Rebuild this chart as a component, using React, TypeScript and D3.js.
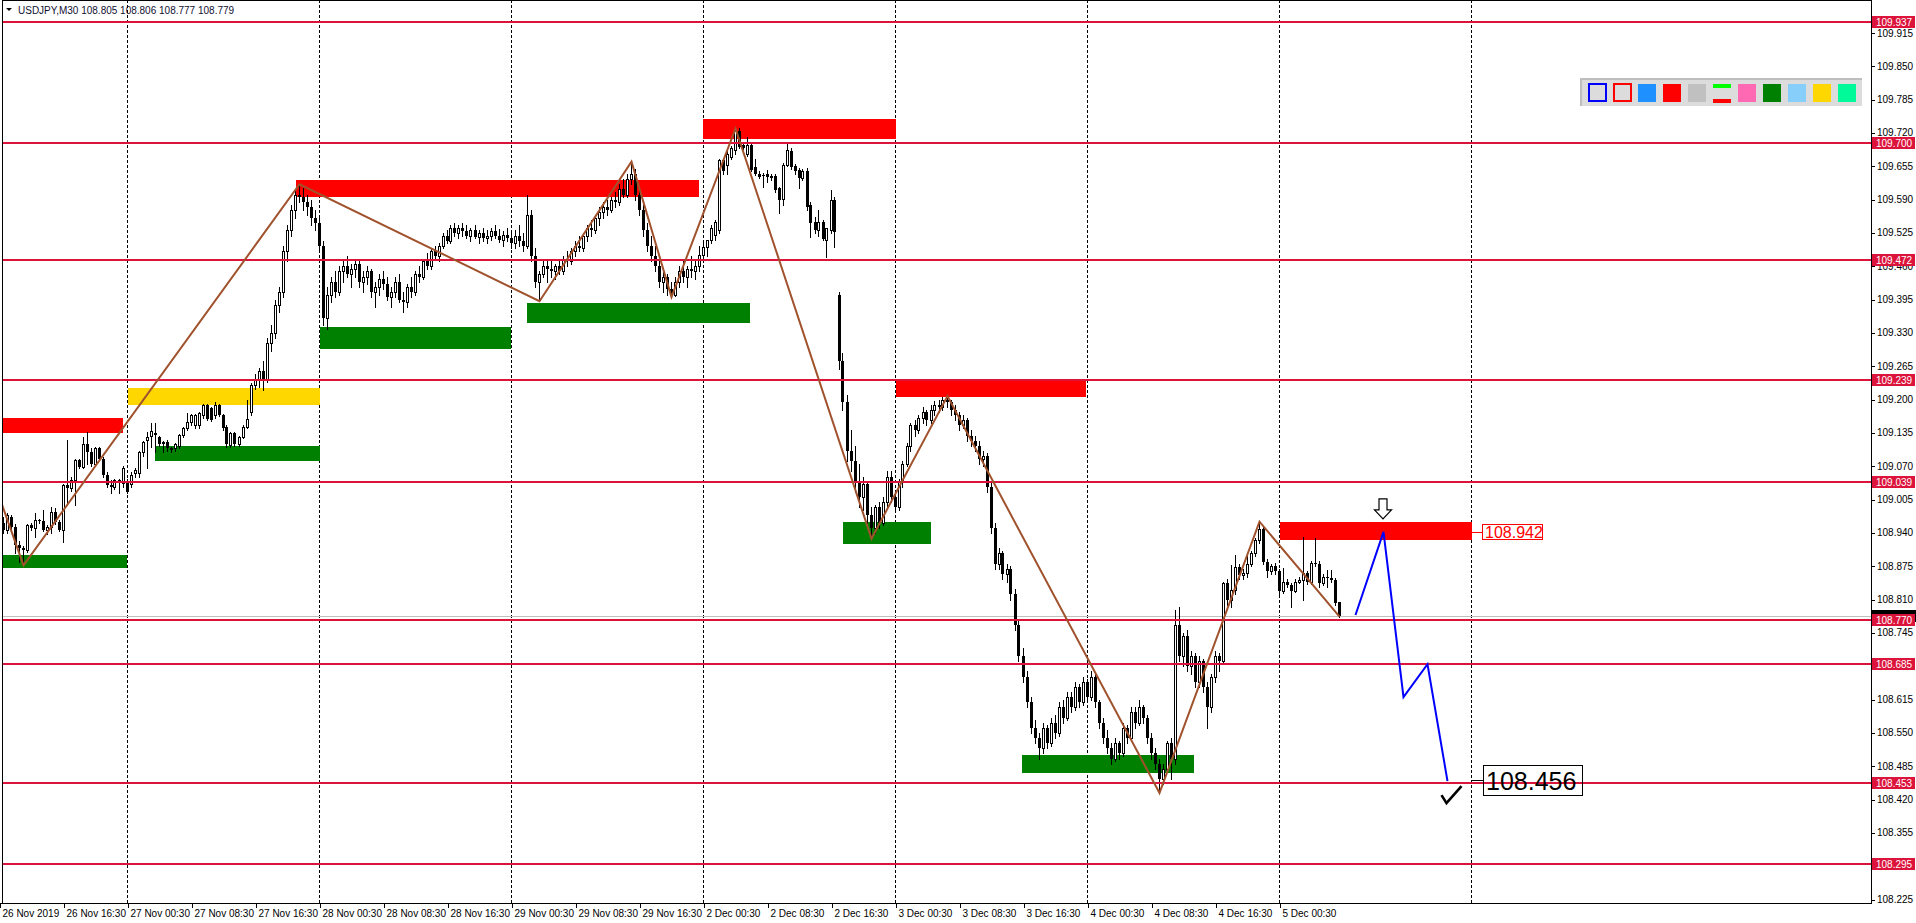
import React from 'react';
import * as d3 from 'd3';

type Bar = [number, number, number, number]; // open, high, low, close (thousandths above 108.000)

// 26 Nov 08:30 .. 26 Nov 24:00
const nov26: Bar[] = [
  [975, 985, 950, 960], [960, 972, 939, 945], [945, 978, 940, 975], [971, 975, 948, 952],
  [952, 958, 900, 916], [916, 925, 884, 910], [910, 915, 877, 906], [906, 958, 903, 955],
  [955, 960, 945, 949], [949, 978, 933, 965], [965, 968, 960, 964], [964, 985, 944, 946],
  [946, 955, 938, 952], [952, 991, 939, 981], [981, 988, 958, 962], [962, 965, 944, 946],
  [946, 1035, 923, 1033], [1033, 1121, 994, 1027], [1027, 1050, 1022, 1044], [1044, 1085, 994, 1082],
  [1082, 1085, 1066, 1069], [1069, 1127, 1066, 1114], [1114, 1137, 1075, 1098], [1098, 1105, 1070, 1075],
  [1075, 1108, 1070, 1105], [1105, 1108, 1082, 1085], [1085, 1088, 1050, 1053], [1053, 1058, 1030, 1033],
  [1033, 1043, 1017, 1030], [1030, 1045, 1025, 1043], [1043, 1046, 1017, 1038], [1038, 1070, 1030, 1066],
];

const nov27: Bar[] = [
  [1040, 1045, 1017, 1020], [1036, 1058, 1030, 1053], [1056, 1066, 1050, 1062], [1056, 1100, 1050, 1098],
  [1098, 1120, 1090, 1118], [1121, 1137, 1066, 1127], [1129, 1154, 1108, 1139], [1133, 1154, 1098, 1135],
  [1127, 1130, 1110, 1114], [1118, 1120, 1098, 1114], [1118, 1122, 1100, 1105], [1105, 1108, 1098, 1102],
  [1105, 1116, 1100, 1114], [1110, 1133, 1105, 1131], [1131, 1146, 1128, 1144], [1144, 1173, 1140, 1157],
  [1157, 1172, 1150, 1170], [1150, 1172, 1145, 1170], [1150, 1175, 1145, 1173], [1170, 1192, 1165, 1189],
  [1189, 1192, 1160, 1163], [1183, 1186, 1158, 1160], [1170, 1196, 1165, 1189], [1189, 1192, 1168, 1170],
  [1170, 1172, 1140, 1144], [1147, 1150, 1108, 1114], [1111, 1136, 1108, 1134], [1134, 1136, 1110, 1114],
  [1114, 1130, 1110, 1127], [1127, 1150, 1125, 1147], [1147, 1199, 1145, 1163], [1175, 1232, 1170, 1228],
  [1228, 1250, 1220, 1240], [1240, 1262, 1225, 1255], [1255, 1275, 1218, 1240], [1240, 1320, 1235, 1310],
  [1310, 1345, 1295, 1330], [1330, 1395, 1320, 1385], [1385, 1420, 1370, 1410], [1410, 1500, 1400, 1490],
  [1490, 1540, 1470, 1530], [1530, 1580, 1520, 1570], [1570, 1610, 1555, 1600], [1600, 1620, 1585, 1595],
  [1595, 1612, 1570, 1585], [1585, 1600, 1560, 1575], [1575, 1590, 1540, 1555], [1555, 1570, 1530, 1545],
];

const nov28: Bar[] = [
  [1545, 1560, 1490, 1500], [1500, 1510, 1345, 1360], [1360, 1420, 1338, 1405], [1405, 1440, 1390, 1430],
  [1430, 1450, 1400, 1410], [1410, 1460, 1405, 1450], [1450, 1470, 1430, 1460], [1460, 1480, 1440, 1445],
  [1445, 1465, 1420, 1455], [1455, 1475, 1440, 1465], [1465, 1470, 1420, 1430], [1430, 1450, 1410, 1440],
  [1440, 1460, 1425, 1450], [1450, 1455, 1400, 1410], [1410, 1430, 1380, 1420], [1420, 1445, 1405, 1435],
  [1435, 1450, 1415, 1425], [1425, 1440, 1395, 1400], [1400, 1420, 1380, 1410], [1410, 1440, 1400, 1430],
  [1430, 1445, 1390, 1395], [1395, 1410, 1370, 1390], [1390, 1425, 1380, 1420], [1420, 1440, 1400, 1410],
  [1410, 1450, 1405, 1445], [1445, 1460, 1430, 1440], [1440, 1475, 1435, 1470], [1470, 1485, 1455, 1460],
  [1460, 1495, 1455, 1490], [1490, 1500, 1475, 1480], [1480, 1505, 1470, 1500], [1500, 1525, 1495, 1520],
  [1520, 1530, 1505, 1510], [1510, 1540, 1505, 1535], [1535, 1545, 1520, 1525], [1525, 1540, 1515, 1535],
  [1535, 1545, 1520, 1528], [1528, 1540, 1515, 1520], [1520, 1535, 1510, 1530], [1530, 1540, 1515, 1518],
  [1518, 1530, 1505, 1525], [1525, 1535, 1510, 1515], [1515, 1530, 1505, 1520], [1520, 1535, 1512, 1528],
  [1528, 1540, 1515, 1520], [1520, 1532, 1508, 1512], [1512, 1528, 1500, 1522], [1522, 1535, 1510, 1515],
];

const nov29: Bar[] = [
  [1515, 1525, 1495, 1505], [1505, 1530, 1495, 1520], [1520, 1540, 1500, 1510], [1510, 1525, 1490, 1500],
  [1500, 1600, 1495, 1560], [1560, 1570, 1470, 1480], [1480, 1495, 1420, 1430], [1430, 1450, 1392, 1445],
  [1445, 1475, 1440, 1460], [1460, 1470, 1430, 1455], [1455, 1470, 1440, 1450], [1450, 1465, 1435, 1460],
  [1460, 1475, 1445, 1450], [1450, 1480, 1445, 1475], [1475, 1490, 1460, 1470], [1470, 1495, 1465, 1490],
  [1490, 1510, 1480, 1500], [1500, 1520, 1490, 1495], [1495, 1525, 1490, 1520], [1520, 1540, 1510, 1535],
  [1535, 1550, 1520, 1530], [1530, 1560, 1525, 1555], [1555, 1575, 1540, 1565], [1565, 1585, 1555, 1575],
  [1575, 1590, 1560, 1570], [1570, 1595, 1565, 1590], [1590, 1605, 1575, 1585], [1585, 1620, 1580, 1610],
  [1610, 1630, 1595, 1600], [1600, 1640, 1595, 1630], [1630, 1664, 1620, 1640], [1640, 1650, 1590, 1600],
  [1600, 1615, 1560, 1570], [1570, 1580, 1520, 1530], [1530, 1545, 1490, 1500], [1500, 1520, 1470, 1480],
  [1480, 1500, 1450, 1460], [1460, 1470, 1420, 1430], [1430, 1450, 1410, 1440], [1440, 1445, 1405, 1415],
  [1415, 1430, 1400, 1405], [1405, 1440, 1402, 1430], [1430, 1460, 1420, 1450], [1450, 1470, 1430, 1440],
  [1440, 1460, 1420, 1455], [1455, 1480, 1440, 1450], [1450, 1470, 1435, 1460], [1460, 1500, 1450, 1482],
];

const dec2: Bar[] = [
  [1482, 1505, 1475, 1498], [1498, 1512, 1480, 1512], [1511, 1540, 1505, 1534], [1521, 1550, 1512, 1547],
  [1531, 1670, 1525, 1667], [1667, 1672, 1640, 1645], [1657, 1687, 1641, 1680], [1674, 1695, 1670, 1690],
  [1687, 1729, 1680, 1723], [1723, 1729, 1690, 1693], [1696, 1700, 1688, 1690], [1680, 1712, 1675, 1696],
  [1696, 1700, 1645, 1648], [1654, 1670, 1638, 1641], [1641, 1645, 1632, 1635], [1638, 1642, 1615, 1636],
  [1640, 1648, 1625, 1634], [1637, 1640, 1628, 1632], [1636, 1640, 1605, 1609], [1612, 1615, 1563, 1589],
  [1592, 1662, 1580, 1658], [1658, 1700, 1655, 1687], [1684, 1690, 1650, 1654], [1656, 1660, 1640, 1646],
  [1648, 1652, 1612, 1632], [1632, 1650, 1628, 1645], [1646, 1652, 1570, 1576], [1580, 1585, 1518, 1544],
  [1547, 1556, 1524, 1531], [1530, 1570, 1520, 1547], [1547, 1550, 1511, 1513], [1511, 1534, 1479, 1534],
  [1531, 1609, 1525, 1589], [1589, 1595, 1498, 1527], [1405, 1410, 1260, 1275], [1275, 1290, 1180, 1195],
  [1195, 1210, 1080, 1100], [1100, 1140, 1060, 1080], [1080, 1110, 1020, 1040], [1040, 1075, 990, 1010],
  [1010, 1050, 985, 1035], [1035, 1040, 960, 975], [975, 990, 929, 950], [950, 995, 940, 990],
  [990, 1000, 950, 960], [960, 1010, 955, 1000], [1000, 1060, 990, 1050], [1050, 1060, 1000, 1010],
];

const dec3: Bar[] = [
  [1010, 1020, 980, 990], [990, 1045, 985, 1040], [1040, 1080, 1030, 1075], [1075, 1115, 1070, 1110],
  [1110, 1155, 1100, 1150], [1150, 1160, 1130, 1140], [1140, 1170, 1135, 1165], [1165, 1185, 1155, 1175],
  [1175, 1180, 1150, 1160], [1160, 1190, 1155, 1180], [1180, 1198, 1170, 1190], [1190, 1200, 1175, 1185],
  [1185, 1205, 1180, 1200], [1200, 1207, 1185, 1195], [1195, 1200, 1170, 1180], [1180, 1190, 1160, 1170],
  [1170, 1175, 1140, 1150], [1150, 1170, 1145, 1160], [1160, 1165, 1120, 1130], [1130, 1140, 1110, 1120],
  [1120, 1130, 1100, 1110], [1110, 1120, 1075, 1085], [1085, 1100, 1070, 1090], [1090, 1095, 1020, 1030],
  [1030, 1040, 940, 950], [950, 960, 870, 880], [880, 910, 870, 900], [900, 905, 850, 860],
  [860, 880, 845, 870], [870, 875, 810, 820], [820, 830, 750, 760], [760, 770, 690, 700],
  [700, 715, 650, 660], [660, 670, 600, 610], [610, 620, 550, 560], [560, 575, 530, 540],
  [540, 550, 500, 520], [520, 570, 510, 560], [560, 565, 520, 530], [530, 580, 525, 570],
  [570, 585, 540, 550], [550, 610, 545, 600], [600, 615, 570, 580], [580, 630, 575, 620],
  [620, 630, 590, 600], [600, 650, 595, 640], [640, 645, 600, 610], [610, 660, 605, 650],
];

const dec4: Bar[] = [
  [650, 655, 610, 620], [620, 670, 615, 660], [660, 665, 600, 610], [610, 615, 560, 570],
  [570, 580, 530, 540], [540, 555, 510, 520], [520, 530, 490, 500], [500, 540, 495, 530],
  [530, 535, 500, 510], [510, 570, 505, 560], [560, 565, 530, 540], [540, 600, 535, 590],
  [590, 600, 560, 570], [570, 615, 565, 600], [600, 605, 570, 580], [580, 585, 530, 540],
  [540, 550, 500, 510], [510, 520, 480, 490], [490, 500, 433, 460], [460, 490, 450, 480],
  [480, 535, 475, 530], [530, 540, 460, 500], [500, 790, 490, 760], [760, 795, 690, 700],
  [700, 745, 680, 740], [740, 750, 670, 680], [680, 710, 665, 700], [700, 705, 640, 650],
  [650, 700, 640, 690], [690, 695, 630, 640], [640, 650, 560, 600], [600, 665, 590, 660],
  [660, 710, 650, 700], [700, 705, 670, 690], [690, 845, 685, 842], [842, 850, 800, 809],
  [809, 877, 795, 828], [828, 897, 820, 874], [874, 880, 850, 858], [858, 870, 850, 861],
  [861, 897, 855, 880], [880, 905, 875, 900], [900, 930, 895, 926], [926, 962, 920, 948],
  [948, 952, 880, 884], [884, 890, 855, 865], [865, 880, 860, 875], [875, 882, 860, 866],
];

const dec5: Bar[] = [
  [866, 870, 820, 826], [826, 871, 822, 845], [845, 850, 835, 838], [838, 842, 796, 827],
  [827, 850, 825, 845], [845, 855, 842, 848], [848, 933, 810, 861], [861, 865, 840, 845],
  [845, 885, 840, 881], [881, 930, 875, 880], [880, 885, 835, 842], [842, 860, 838, 855],
  [855, 868, 835, 853], [853, 868, 845, 849], [849, 852, 800, 803], [805, 806, 777, 779],
];

const bars: Bar[] = [...nov26, ...nov27, ...nov28, ...nov29, ...dec2, ...dec3, ...dec4, ...dec5];

// time axis: one label every 16 bars (8 hours)
const timeLabels = [
  '26 Nov 2019', '26 Nov 16:30', '27 Nov 00:30', '27 Nov 08:30', '27 Nov 16:30', '28 Nov 00:30',
  '28 Nov 08:30', '28 Nov 16:30', '29 Nov 00:30', '29 Nov 08:30', '29 Nov 16:30', '2 Dec 00:30',
  '2 Dec 08:30', '2 Dec 16:30', '3 Dec 00:30', '3 Dec 08:30', '3 Dec 16:30', '4 Dec 00:30',
  '4 Dec 08:30', '4 Dec 16:30', '5 Dec 00:30',
];
const daySeparators = [32, 80, 128, 176, 224, 272, 320, 368];

const priceTicks = [
  108.225, 108.29, 108.355, 108.42, 108.485, 108.55, 108.615, 108.68, 108.745, 108.81, 108.875,
  108.94, 109.005, 109.07, 109.135, 109.2, 109.265, 109.33, 109.395, 109.46, 109.525, 109.59,
  109.655, 109.72, 109.785, 109.85, 109.915,
];
const levels = [109.937, 109.7, 109.472, 109.239, 109.039, 108.77, 108.685, 108.453, 108.295];
const bid = 108.779;

// zones: [fromBar, toBar, top, bottom, kind]
const zones: [number, number, number, number, string][] = [
  [-2, 30.8, 109.165, 109.135, 'res'],
  [-2, 31.9, 108.897, 108.872, 'sup'],
  [32, 80, 109.222, 109.19, 'mid'],
  [38.9, 80, 109.11, 109.081, 'sup'],
  [74.1, 174.9, 109.628, 109.595, 'res'],
  [80, 127.9, 109.341, 109.298, 'sup'],
  [131.9, 187.6, 109.388, 109.349, 'sup'],
  [175.8, 224, 109.747, 109.708, 'res'],
  [224, 271.6, 109.24, 109.205, 'res'],
  [210.9, 232.9, 108.962, 108.919, 'sup'],
  [255.6, 298.6, 108.507, 108.471, 'sup'],
  [320, 368, 108.961, 108.926, 'res'],
];

const zigzag: [number, number][] = [
  [-4, 109.097], [6, 108.877], [75, 109.62], [135, 109.392], [158, 109.664], [168, 109.4],
  [184, 109.729], [218, 108.929], [237, 109.207], [290, 108.433], [315, 108.962], [335, 108.777],
];
const projection: [number, number][] = [
  [339, 108.78], [346, 108.942], [351, 108.62], [357, 108.684], [362, 108.456],
];
const targetPrice = 108.942;
const finalPrice = 108.456;

const paletteColors = ['box-blue', 'box-red', '#1E90FF', '#FF0000', '#C0C0C0', 'lines', '#FF69B4', '#008000', '#87CEFA', '#FFD700', '#00FA9A'];

const FONT = "'Liberation Sans', Arial, sans-serif";
const RIGHT = 1871;
const BOTTOM = 903;
const zoneColor: Record<string, string> = { res: '#FF0000', sup: '#008000', mid: '#FFD700' };

export default function App() {
  const x = d3.scaleLinear().domain([0, 100]).range([-0.5, 399.5]);
  const y = d3.scaleLinear().domain([108.225, 109.915]).range([899.6, 33]);
  const p = (v: number) => 108 + v / 1000;
  const snap = (v: number) => Math.round(v) + 0.5;

  const line = d3.line<[number, number]>().x(d => x(d[0])).y(d => y(d[1]));
  const fmt = d3.format('.3f');

  return (
    <svg width={1916} height={923} style={{ position: 'fixed', left: 0, top: 0, background: '#fff' }}
      fontFamily={FONT}>
      <defs>
        <clipPath id="plot"><rect x={3} y={1} width={RIGHT - 3} height={BOTTOM - 1} /></clipPath>
      </defs>
      <rect x={0} y={0} width={1916} height={923} fill="#fff" />

      {/* day separators */}
      {daySeparators.map(i => (
        <line key={i} x1={snap(x(i)) - 1} x2={snap(x(i)) - 1} y1={0} y2={BOTTOM}
          stroke="#000" strokeDasharray="3,2" />
      ))}

      <g clipPath="url(#plot)">
        {zones.map((z, k) => (
          <rect key={k} x={Math.round(x(z[0]))} y={Math.round(y(z[2]))}
            width={Math.round(x(z[1])) - Math.round(x(z[0]))}
            height={Math.round(y(z[3])) - Math.round(y(z[2]))} fill={zoneColor[z[4]]} />
        ))}

        {/* bid line */}
        <line x1={0} x2={RIGHT} y1={snap(y(bid))} y2={snap(y(bid))} stroke="#C0C0C0" />

        {/* candles */}
        {bars.map((b, i) => {
          const cx = snap(x(i)) - 1;
          const [o, h, l, c] = b.map(p);
          const top = Math.round(y(Math.max(o, c)));
          const bot = Math.round(y(Math.min(o, c)));
          const bull = c >= o;
          return (
            <g key={i}>
              <line x1={cx} x2={cx} y1={Math.round(y(h))} y2={Math.round(y(l)) + 1} stroke="#000" />
              {bull ? (
                <rect x={cx - 1} y={top + 0.5} width={2} height={Math.max(bot - top, 0)} fill="#fff" stroke="#000" />
              ) : (
                <rect x={cx - 1.5} y={top} width={3} height={Math.max(bot - top, 1)} fill="#000" />
              )}
            </g>
          );
        })}

        {/* level lines */}
        {levels.map(v => (
          <line key={v} x1={0} x2={RIGHT} y1={Math.round(y(v))} y2={Math.round(y(v))}
            stroke="#DC143C" strokeWidth={2} />
        ))}

        <path d={line(zigzag) ?? ''} fill="none" stroke="#A0522D" strokeWidth={2} />
        <path d={line(projection) ?? ''} fill="none" stroke="#0000FF" strokeWidth={2} />
      </g>

      {/* frame */}
      <line x1={2.5} x2={2.5} y1={0} y2={BOTTOM} stroke="#000" />
      <line x1={2} x2={RIGHT} y1={0.5} y2={0.5} stroke="#000" />
      <line x1={RIGHT + 0.5} x2={RIGHT + 0.5} y1={0} y2={BOTTOM + 1} stroke="#000" />
      <line x1={0} x2={RIGHT + 1} y1={BOTTOM + 0.5} y2={BOTTOM + 0.5} stroke="#000" />

      {/* header */}
      <path d="M6,8 L12,8 L9,11 Z" fill="#000" />
      <text x={18} y={14} fontSize={10} fill="#101030">USDJPY,M30  108.805 108.806 108.777 108.779</text>

      {/* price axis */}
      {priceTicks.map(v => (
        <g key={v}>
          <line x1={RIGHT} x2={RIGHT + 4} y1={snap(y(v))} y2={snap(y(v))} stroke="#000" />
          <text x={RIGHT + 6} y={y(v) + 3.5} fontSize={10} fill="#000">{fmt(v)}</text>
        </g>
      ))}
      <rect x={RIGHT + 1} y={Math.round(y(bid)) - 6} width={44} height={12} fill="#000" />
      {levels.map(v => (
        <g key={v}>
          <rect x={RIGHT + 1} y={Math.round(y(v)) - 6} width={43} height={12} fill="#DC143C" />
          <text x={RIGHT + 5} y={Math.round(y(v)) + 4} fontSize={10} fill="#fff">{fmt(v)}</text>
        </g>
      ))}

      {/* time axis */}
      {timeLabels.map((t, k) => {
        const xi = snap(x(k * 16));
        return (
          <g key={t}>
            <line x1={xi} x2={xi} y1={BOTTOM} y2={BOTTOM + 5} stroke="#000" />
            <text x={xi + 2} y={917} fontSize={10} fill="#000">{t}</text>
          </g>
        );
      })}

      {/* target marks */}
      <line x1={x(368)} x2={1482} y1={Math.round(y(targetPrice)) + 0.5} y2={Math.round(y(targetPrice)) + 0.5} stroke="#FF0000" />
      <rect x={1482.5} y={Math.round(y(targetPrice)) - 7.5} width={60} height={15} fill="#fff" stroke="#FF0000" />
      <text x={1485} y={Math.round(y(targetPrice)) + 6} fontSize={16} fill="#FF0000">{fmt(targetPrice)}</text>

      <path d={`M${x(346) - 4.5},${y(targetPrice) - 33} h8 v11 h4.5 l-8.5,9 l-8.5,-9 h4.5 Z`}
        fill="#fff" stroke="#000" strokeWidth={1.2} />

      <line x1={x(368)} x2={1483} y1={Math.round(y(finalPrice)) - 0.5} y2={Math.round(y(finalPrice)) - 0.5} stroke="#000" />
      <rect x={1483.5} y={Math.round(y(finalPrice)) - 15.5} width={99} height={30} fill="none" stroke="#000" />
      <text x={1486} y={Math.round(y(finalPrice)) + 9} fontSize={25} fill="#000">{fmt(finalPrice)}</text>
      <path d={`M${x(361) - 2},${y(finalPrice) + 14} l5,8 l15,-17`} fill="none" stroke="#000" strokeWidth={2.6} />

      {/* palette */}
      <rect x={1580} y={78} width={282} height={28} fill="#DCDCDC" />
      <rect x={1580} y={78} width={282} height={2} fill="#BEBEBE" />
      <rect x={1580} y={78} width={2} height={28} fill="#BEBEBE" />
      {paletteColors.map((c, k) => {
        const px = 1588 + 25 * k;
        if (c === 'box-blue' || c === 'box-red')
          return <rect key={k} x={px + 1} y={84} width={17} height={17} fill="none"
            stroke={c === 'box-blue' ? '#0000FF' : '#FF0000'} strokeWidth={2} />;
        if (c === 'lines')
          return (
            <g key={k}>
              <rect x={px} y={84} width={18} height={4} fill="#00FF00" />
              <rect x={px} y={99} width={18} height={4} fill="#FF0000" />
            </g>
          );
        return <rect key={k} x={px} y={84} width={18} height={18} fill={c} />;
      })}
    </svg>
  );
}
